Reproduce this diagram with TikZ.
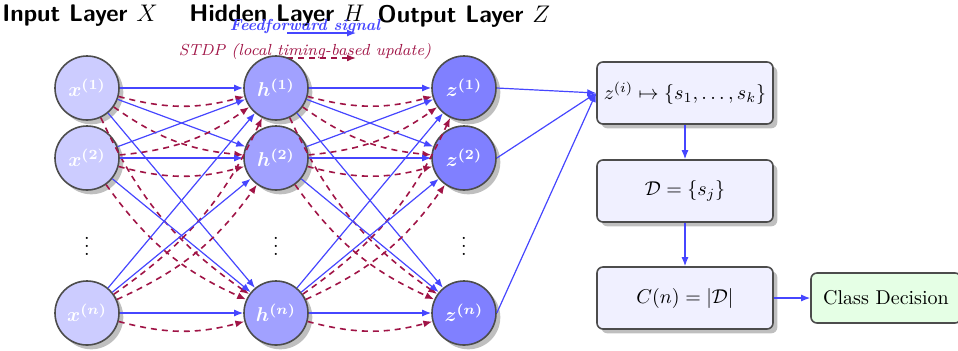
\documentclass[tikz,border=0pt]{standalone}
\usetikzlibrary{arrows.meta,shadows}
\definecolor{stdpc}{RGB}{160,20,70}
\definecolor{ffc}{RGB}{70,70,255}
\begin{document}
\begin{tikzpicture}[x=0.5pt,y=-0.5pt,
  neuron/.style={circle, minimum size=32pt, inner sep=0pt, draw=black!70, thick, drop shadow, text=white, font=\boldmath},
  inl/.style={neuron, fill=blue!20},
  hid/.style={neuron, fill=blue!37},
  outl/.style={neuron, fill=blue!50},
  ff/.style={-{Latex[length=4.5pt,width=3.5pt]}, ffc, semithick},
  stdp/.style={-{Latex[length=4.5pt,width=3.5pt]}, stdpc, thick, dash pattern=on 3pt off 2.5pt},
  proc/.style={rectangle, rounded corners=3pt, draw=black!70, thick, fill=blue!6, minimum width=88pt, minimum height=31pt, drop shadow},
  dec/.style={rectangle, rounded corners=3pt, draw=black!70, thick, fill=green!10, minimum width=75pt, minimum height=25pt},
  ttl/.style={font=\large\sffamily\bfseries},
  dotsn/.style={inner sep=0pt}
]
\useasboundingbox (0,0) rectangle (958,350);

% titles
\node[ttl] (tx) at (80,16) {Input Layer $X$};
\node[ttl] (th) at (277,16) {Hidden Layer $H$};
\node[ttl] (tz) at (464,16) {Output Layer $Z$};

% legend
\node[font=\footnotesize\bfseries\itshape, text=ffc] (ffl) at (305,26) {Feedforward signal};
\coordinate (ffs) at (287,33);
\coordinate (ffe) at (356,33);
\draw[ff] (ffs) -- (ffe);
\node[font=\footnotesize\itshape, text=stdpc] (stl) at (305,51) {STDP (local timing-based update)};
\coordinate (sts) at (287,58);
\coordinate (ste) at (356,58);
\draw[stdp] (sts) -- (ste);

% neurons
\node[inl] (x1) at (87,88) {$x^{(1)}$};
\node[inl] (x2) at (87,158) {$x^{(2)}$};
\node[dotsn] (xd) at (87,240) {$\vdots$};
\node[inl] (xn) at (87,313) {$x^{(n)}$};

\node[hid] (h1) at (276,88) {$h^{(1)}$};
\node[hid] (h2) at (276,158) {$h^{(2)}$};
\node[dotsn] (hd) at (276,240) {$\vdots$};
\node[hid] (hn) at (276,313) {$h^{(n)}$};

\node[outl] (z1) at (464,88) {$z^{(1)}$};
\node[outl] (z2) at (464,158) {$z^{(2)}$};
\node[dotsn] (zd) at (464,240) {$\vdots$};
\node[outl] (zn) at (464,313) {$z^{(n)}$};

\foreach \a in {1,2,n}{
  \foreach \b in {1,2,n}{
    \draw[ff] (x\a) -- (h\b);
    \draw[stdp] (x\a) to[bend right=15] (h\b);
    \draw[ff] (h\a) -- (z\b);
    \draw[stdp] (h\a) to[bend right=15] (z\b);
  }
}

% pipeline
\node[proc] (b1) at (685,93) {$z^{(i)} \mapsto \{s_1,\dots,s_k\}$};
\node[proc] (b2) at (685,191) {$\mathcal{D} = \{s_j\}$};
\node[proc] (b3) at (685,298) {$C(n) = |\mathcal{D}|$};
\node[dec] (cd) at (886,298) {Class Decision};

\draw[ff] (z1.east) -- (b1.west);
\draw[ff] (z2.east) -- (b1.west);
\draw[ff] (zn.east) -- (b1.west);
\draw[ff] (b1) -- (b2);
\draw[ff] (b2) -- (b3);
\draw[ff] (b3) -- (cd);
\end{tikzpicture}
\end{document}
